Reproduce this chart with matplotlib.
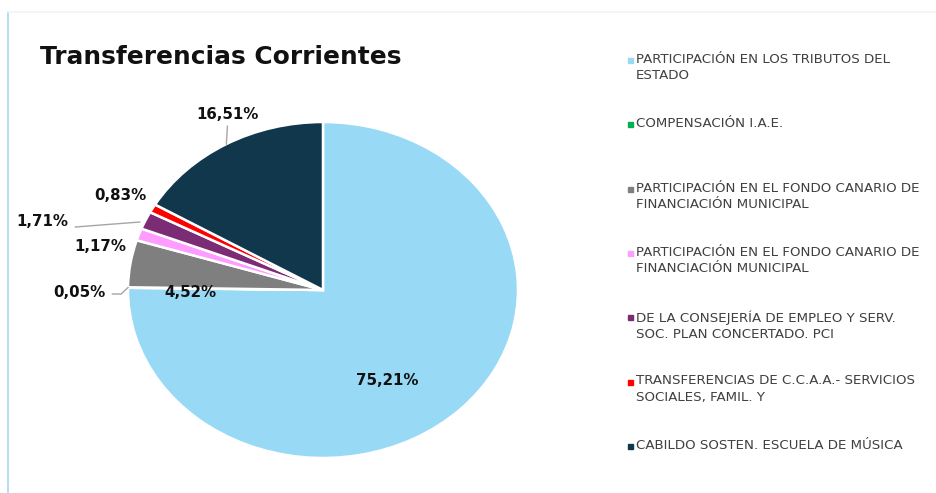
import numpy as np
import matplotlib
matplotlib.use("Agg")
import matplotlib.pyplot as plt
from matplotlib.lines import Line2D

title = "Transferencias Corrientes"
categories = [
    "PARTICIPACIÓN EN LOS TRIBUTOS DEL\nESTADO",
    "COMPENSACIÓN I.A.E.",
    "PARTICIPACIÓN EN EL FONDO CANARIO DE\nFINANCIACIÓN MUNICIPAL",
    "PARTICIPACIÓN EN EL FONDO CANARIO DE\nFINANCIACIÓN MUNICIPAL",
    "DE LA CONSEJERÍA DE EMPLEO Y SERV.\nSOC. PLAN CONCERTADO. PCI",
    "TRANSFERENCIAS DE C.C.A.A.- SERVICIOS\nSOCIALES, FAMIL. Y",
    "CABILDO SOSTEN. ESCUELA DE MÚSICA",
]
values = [75.21, 0.05, 4.52, 1.17, 1.71, 0.83, 16.51]
colors = ["#98D9F6", "#00B050", "#7F7F7F", "#FF9CFF", "#7B2C74", "#FF0000", "#10374C"]

# label layout: (x, y) in data units, and whether a leader line is drawn
label_pos = [(0.33, -0.54), (-1.25, -0.012), (-0.68, -0.012), (-1.14, 0.26),
             (-1.44, 0.405), (-1.04, 0.565), (-0.49, 1.045)]
leader = [False, True, False, False, True, False, True]

W, H = 936, 493
fig = plt.figure(figsize=(W / 100, H / 100), dpi=100)
fig.patch.set_facecolor("white")

# border lines
fig.add_artist(Line2D([8 / W, 8 / W], [0, 1 - 12 / H], color="#a9d8ef", lw=1.2))
fig.add_artist(Line2D([8 / W, 1], [1 - 12 / H, 1 - 12 / H], color="#eef5fa", lw=1.2))

cx, cy, rx, ry = 323, 290, 195, 168
lim = 1.1
aw, ah = 2 * lim * rx, 2 * lim * ry
ax = fig.add_axes([(cx - aw / 2) / W, (H - cy - ah / 2) / H, aw / W, ah / H])
wedges, _ = ax.pie(values, colors=colors, startangle=90, counterclock=False,
                   wedgeprops=dict(edgecolor="white", linewidth=1.8))
ax.set_aspect("auto")
ax.set_xlim(-lim, lim)
ax.set_ylim(-lim, lim)
ax.axis("off")

for i, (w, v) in enumerate(zip(wedges, values)):
    lx, ly = label_pos[i]
    txt = f"{v:.2f}%".replace(".", ",")
    ax.text(lx, ly, txt, ha="center", va="center", fontsize=10.8,
            fontweight="bold", color="#111111", clip_on=False)
    if leader[i]:
        ang = np.deg2rad((w.theta1 + w.theta2) / 2)
        ex, ey = np.cos(ang), np.sin(ang)
        if i == 6:
            xs, ys = [lx, ex], [ly - 0.07, ey]
        elif i == 4:
            xs, ys = [lx + 0.17, ex - 0.03], [ly - 0.03, ey - 0.01]
        else:
            xs, ys = [lx + 0.17, lx + 0.215, ex], [ly - 0.012, ly - 0.012, ey]
        ax.add_line(Line2D(xs, ys, color="#a6a6a6", lw=1.0, clip_on=False))

fig.text(40 / W, 1 - 57 / H, title, fontsize=17.9, fontweight="bold",
         color="#111111", ha="left", va="center")

# legend
y0, dy = 60, 64.3
for i, (lab, c) in enumerate(zip(categories, colors)):
    yc = y0 + i * dy
    fig.add_artist(Line2D([629.5 / W], [1 - yc / H], marker="s", markersize=3.6,
                          color=c, linestyle="none"))
    fig.text(636 / W, 1 - (yc - 7) / H, lab, fontsize=9.6, color="#404040",
             ha="left", va="top", linespacing=1.3)

fig.savefig("out.png", dpi=100, facecolor="white")
